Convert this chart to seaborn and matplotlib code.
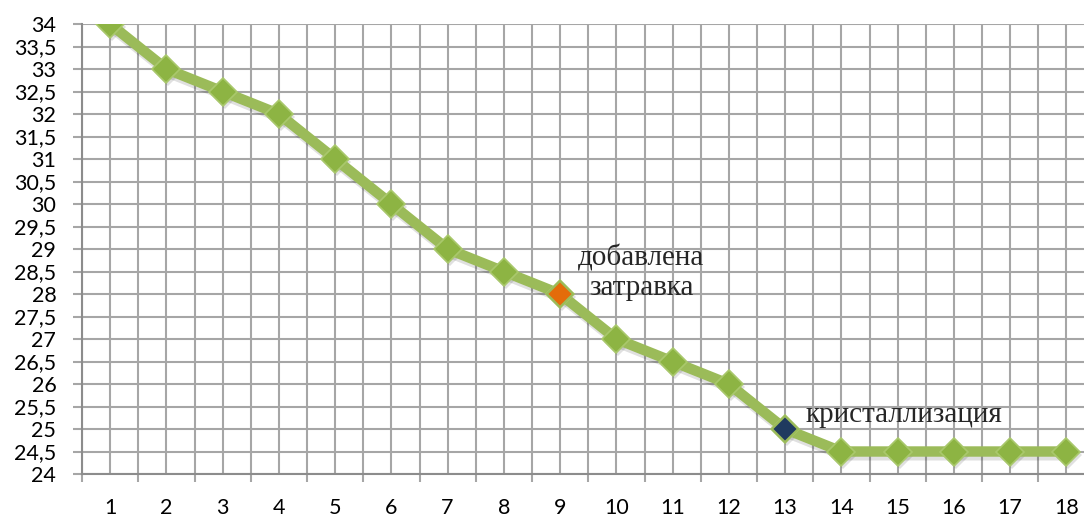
import matplotlib
matplotlib.use("Agg")
import matplotlib.pyplot as plt
from matplotlib.ticker import MultipleLocator, FixedLocator, FuncFormatter
from matplotlib.transforms import ScaledTranslation
import seaborn as sns
import pandas as pd

# Temperature readings taken at each step
steps = list(range(1, 19))
temperature = [34, 33, 32.5, 32, 31, 30, 29, 28.5, 28, 27, 26.5, 26, 25, 24.5, 24.5, 24.5, 24.5, 24.5]

seed_step = 9
cryst_step = 13
seed_label = "добавлена\nзатравка"
cryst_label = "кристаллизация"

df = pd.DataFrame({"step": steps, "temp": temperature})

sns.set_theme(style="white")
plt.rcParams["font.family"] = ["Lato", "DejaVu Sans"]

W, H = 1084, 517
fig = plt.figure(figsize=(W / 100, H / 100), dpi=100)
left, right, bottom, top = 82, 1094.5, 474, 24
ax = fig.add_axes([left / W, 1 - bottom / H, (right - left) / W, (bottom - top) / H])

# soft drop shadow under the series
shadow = ax.transData + ScaledTranslation(1.5 / 72, -2.5 / 72, fig.dpi_scale_trans)
ax.plot(df["step"], df["temp"], color="#000000", alpha=0.12, linewidth=8,
        marker="D", markersize=14, markeredgewidth=0, transform=shadow, zorder=2)

green = "#9BBB59"
sns.lineplot(data=df, x="step", y="temp", ax=ax, color=green, linewidth=7.5,
             marker="D", markersize=14, markerfacecolor="#8DB443",
             markeredgecolor="#A9C86C", markeredgewidth=1.2, zorder=3)

# highlighted points
for st, col in [(seed_step, "#E46C0A"), (cryst_step, "#1F3A5F")]:
    row = df[df["step"] == st]
    ax.plot(row["step"], row["temp"], linestyle="none", marker="D", markersize=13,
            markerfacecolor=col, markeredgecolor="#9BBB59", markeredgewidth=1.5, zorder=4)

seed_lines = seed_label.split("\n")
ax.text(10.44, 28.64, seed_lines[0], ha="center", va="baseline",
        family="Liberation Serif", fontsize=21, zorder=5)
ax.text(10.45, 27.98, seed_lines[1], ha="center", va="baseline",
        family="Liberation Serif", fontsize=21, zorder=5)
ax.text(13.37, 25.16, cryst_label, ha="left", va="baseline",
        family="Liberation Serif", fontsize=21, zorder=5)

ax.set_xlim(0.5, 18.5)
ax.set_ylim(24, 34)
ax.set_xlabel("")
ax.set_ylabel("")

ax.yaxis.set_major_locator(MultipleLocator(0.5))
ax.yaxis.set_major_formatter(FuncFormatter(lambda v, p: f"{v:g}".replace(".", ",")))
ax.xaxis.set_major_locator(FixedLocator(steps))
ax.xaxis.set_minor_locator(FixedLocator([s - 0.5 for s in steps] + [18.5]))

grid_col = "#A6A6A6"
ax.grid(True, which="both", axis="x", color=grid_col, linewidth=1.5)
ax.grid(True, which="major", axis="y", color=grid_col, linewidth=1.5)
ax.set_axisbelow(True)

for side in ["top", "right"]:
    ax.spines[side].set_visible(False)
for side in ["left", "bottom"]:
    ax.spines[side].set_color("#8C8C8C")
    ax.spines[side].set_linewidth(1.5)

ax.tick_params(axis="y", which="major", left=True, length=6.5, width=1.5, color=grid_col,
               pad=12, labelsize=15.5, labelcolor="#000000")
ax.tick_params(axis="x", which="major", bottom=False, length=0, pad=17,
               labelsize=15.5, labelcolor="#000000")
ax.tick_params(axis="x", which="minor", bottom=True, length=6, width=1.5, color=grid_col)

fig.savefig("out.png", dpi=100)
